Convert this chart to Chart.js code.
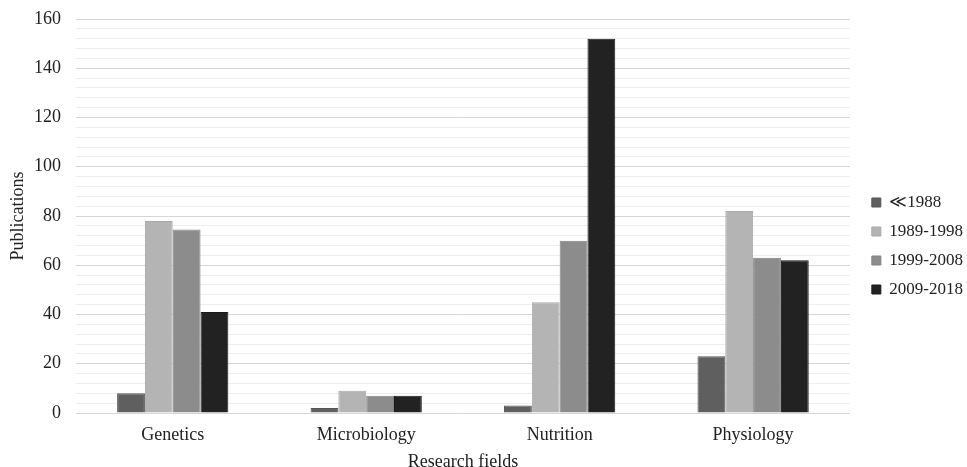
<!DOCTYPE html>
<html>
<head>
<meta charset="utf-8">
<script src="https://cdn.jsdelivr.net/npm/chart.js@4/dist/chart.umd.min.js"></script>
<style>
html,body{margin:0;padding:0;background:#fff;overflow:hidden;}
#wrap{width:967px;height:480px;position:relative;}
</style>
</head>
<body>
<div id="wrap"><canvas id="c"></canvas></div>
<script>
const categories = ["Genetics", "Microbiology", "Nutrition", "Physiology"];
const seriesNames = ["\u226A1988", "1989-1998", "1999-2008", "2009-2018"];
const before1988 = [8, 2, 3, 23];
const y1989_1998 = [78, 9, 45, 82];
const y1999_2008 = [74.5, 7, 70, 63];
const y2009_2018 = [41, 7, 152, 62];
const seriesColors = ["#5f5f5f", "#b4b4b4", "#8c8c8c", "#222222"];
const borderColors = ["#555555", "#a9a9a9", "#828282", "#1a1a1a"];
const yTickLabels = [0, 20, 40, 60, 80, 100, 120, 140, 160];

const seriesValues = [before1988, y1989_1998, y1999_2008, y2009_2018];
const FONT = "'Liberation Serif', 'Times New Roman', serif";

const legendShift = {
  id: 'legendShift',
  afterLayout(chart) {
    const lg = chart.legend;
    if (lg) { lg.left += 10; lg.right += 10; lg.top += 2; lg.bottom += 2; }
  }
};

new Chart(document.getElementById('c'), {
  type: 'bar',
  data: {
    labels: categories,
    datasets: seriesValues.map((v, i) => ({
      label: seriesNames[i],
      data: v,
      backgroundColor: seriesColors[i],
      borderColor: borderColors[i],
      borderWidth: 1,
      categoryPercentage: 0.575,
      barPercentage: 1.0
    }))
  },
  plugins: [legendShift],
  options: {
    responsive: true,
    maintainAspectRatio: false,
    animation: false,
    layout: { padding: { top: 8, left: 7, right: 4, bottom: 0 } },
    plugins: {
      legend: {
        position: 'right',
        align: 'center',
        labels: {
          boxWidth: 9,
          boxHeight: 9,
          padding: 12,
          color: '#222',
          font: { family: FONT, size: 17 }
        }
      },
      tooltip: { enabled: false }
    },
    scales: {
      x: {
        grid: { display: false },
        border: { display: false },
        ticks: { color: '#222', font: { family: FONT, size: 18 }, padding: 3, maxRotation: 0 },
        title: { display: true, text: 'Research fields', color: '#222', font: { family: FONT, size: 18 }, padding: { top: 5, bottom: 7 } },
        afterFit: (s) => { s.height = 67; }
      },
      y: {
        min: 0,
        max: 160,
        border: { display: false },
        grid: {
          drawTicks: false,
          color: (ctx) => (ctx.tick && yTickLabels.includes(ctx.tick.value)) ? '#d6d6d6' : '#eeeeee',
          lineWidth: 1
        },
        ticks: {
          stepSize: 4,
          autoSkip: false,
          padding: 15,
          color: '#222',
          font: { family: FONT, size: 18 },
          callback: (v) => yTickLabels.includes(v) ? String(v) : ''
        },
        title: { display: true, text: 'Publications', color: '#222', font: { family: FONT, size: 18 }, padding: { top: 0, bottom: 4 } },
        afterFit: (s) => { s.width = 69; s.paddingTop = 19; }
      }
    }
  }
});
</script>
</body>
</html>
